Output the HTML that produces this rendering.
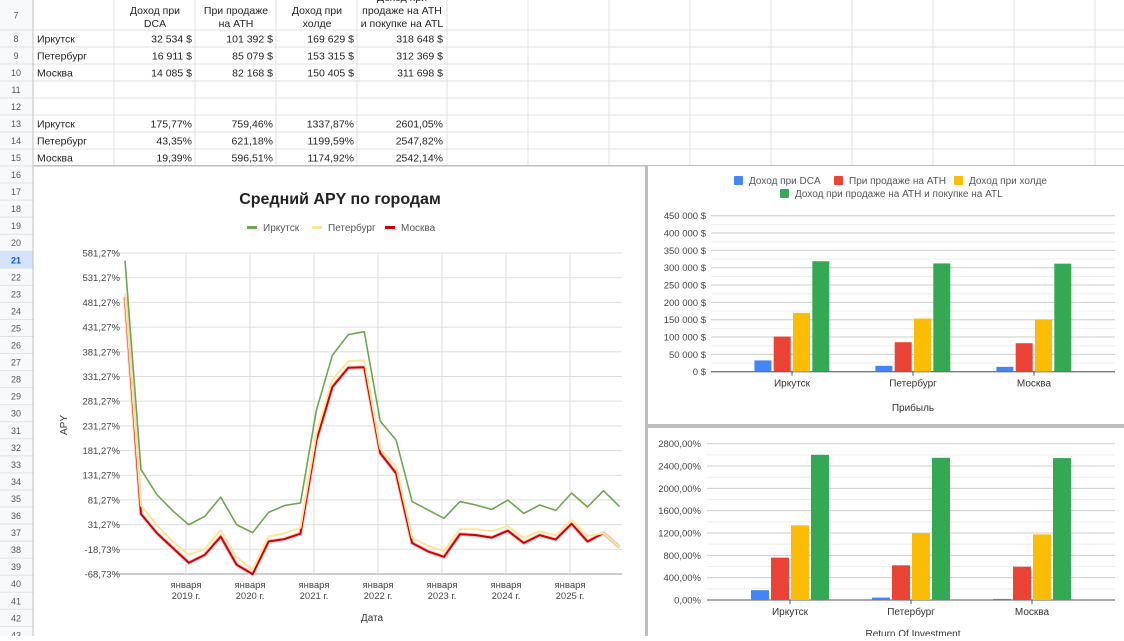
<!DOCTYPE html>
<html><head><meta charset="utf-8"><style>
html,body{margin:0;padding:0;background:#fff;}
body{width:1124px;height:636px;overflow:hidden;font-family:"Liberation Sans",Arial,sans-serif;}
svg text{font-family:"Liberation Sans",Arial,sans-serif;}
</style></head><body>
<svg id="s" width="1124" height="636" viewBox="0 0 1124 636">
<g id="grid"></g>
<g id="cells"></g>
<g id="line"></g>
<g id="bar1"></g>
<g id="bar2"></g>
</svg>
<script>
// ---- data ----
const cities = ["Иркутск","Петербург","Москва"];
const profitDCA = [32534,16911,14085];
const profitATH = [101392,85079,82168];
const profitHold = [169629,153315,150405];
const profitATL = [318648,312369,311698];
const roiDCA = [175.77,43.35,19.39];
const roiATH = [759.46,621.18,596.51];
const roiHold = [1337.87,1199.59,1174.92];
const roiATL = [2601.05,2547.82,2542.14];
const profitLabels = [["32 534 $","101 392 $","169 629 $","318 648 $"],["16 911 $","85 079 $","153 315 $","312 369 $"],["14 085 $","82 168 $","150 405 $","311 698 $"]];
const roiLabels = [["175,77%","759,46%","1337,87%","2601,05%"],["43,35%","621,18%","1199,59%","2547,82%"],["19,39%","596,51%","1174,92%","2542,14%"]];
const yearTicks = [2019,2020,2021,2022,2023,2024,2025];
const apyTicks = [581.27,531.27,481.27,431.27,381.27,331.27,281.27,231.27,181.27,131.27,81.27,31.27,-18.73,-68.73];
const apyIrkutsk = [566,143,92,59,31,48,87,31,15,56,70,75,263,374,416,422,241,202,78,61,44,78,71,62,81,54,71,60,95,67,100,68];
const apyPiter = [500,70,30,-3,-30,-18,20,-35,-60,7,14,25,215,325,362,364,185,148,5,-12,-22,22,22,18,28,4,18,10,40,8,14,-14];
const apyMoscow = [492,53,14,-16,-46,-30,7,-50,-69,-3,2,13,202,310,349,350,176,135,-6,-23,-34,12,10,5,19,-6,10,1,33,-3,14,-14];

const NS="http://www.w3.org/2000/svg";
function mk(parent,tag,attrs,txt){const e=document.createElementNS(NS,tag);for(const k in attrs)e.setAttribute(k,attrs[k]);if(txt!==undefined)e.textContent=txt;parent.appendChild(e);return e;}

// ---- spreadsheet grid ----
const grid=document.getElementById('grid');
const rowTops=[0,30,47,64,81,98,115,132,149,166];
for(let r=16;r<=43;r++)rowTops.push(166+(r-15)*17.05);
mk(grid,'rect',{x:0,y:0,width:33,height:636,fill:'#f8f9fa'});
for(let i=0;i<rowTops.length-1;i++){
  const y0=rowTops[i],y1=rowTops[i+1],rn=7+i;
  if(rn===21){const hl=mk(grid,'rect',{x:0,y:y0,width:33,height:y1-y0,fill:'#d3e3fd'});
  
  }
  const t=mk(grid,'text',{x:16,y:(y0+y1)/2+3.5,'font-size':9,'text-anchor':'middle',fill:rn===21?'#0b57d0':'#555','font-weight':rn===21?'bold':'normal'},String(rn));
  
  
  mk(grid,'line',{x1:0,x2:1124,y1:y1,y2:y1,stroke:'#e1e1e1','stroke-width':1});
}
const colX=[33,114,195,276,357,447,528,609,690,771,852,933,1014,1095];
colX.forEach(x=>mk(grid,'line',{x1:x,x2:x,y1:0,y2:636,stroke:'#e1e1e1'}));
mk(grid,'line',{x1:33,x2:33,y1:0,y2:636,stroke:'#c0c0c0'});

// ---- table cells ----
const cells=document.getElementById('cells');
const hdr=[[155,["Доход при","DCA"]],[236,["При продаже","на ATH"]],[317,["Доход при","холде"]],[402,["Доход при","продаже на ATH","и покупке на ATL"]]];
hdr.forEach(h=>{const n=h[1].length;h[1].forEach((s,j)=>{const y=27-(n-1-j)*13;const t=mk(cells,'text',{x:h[0],y:y,'font-size':10.5,'text-anchor':'middle',fill:'#222'},s);

});});
const colR=[192,273,354,443];
[[0,profitLabels],[5,roiLabels]].forEach(([off,labels])=>{
  cities.forEach((c,i)=>{const y0=rowTops[1+off+i],y1=rowTops[2+off+i],ty=(y0+y1)/2+4;
    const t=mk(cells,'text',{x:37,y:ty,'font-size':10.5,fill:'#222'},c);
    
    
    labels[i].forEach((v,j)=>{const e=mk(cells,'text',{x:colR[j],y:ty,'font-size':10.5,'text-anchor':'end',fill:'#222'},v);
    
    });
  });
});

// ---- line chart ----
const L=document.getElementById('line');
mk(L,'rect',{x:34,y:166,width:612,height:470,fill:'#fff'});
mk(L,'rect',{x:645,y:166,width:3,height:470,fill:'#bdbdbd'});
mk(L,'rect',{x:34,y:165,width:1090,height:1.5,fill:'#bdbdbd'});
const yV=v=>574-(v+68.73)/650*321;
const xI=i=>125+i*15.95;
const xYear=y=>186+(y-2019)*64;
const lt=mk(L,'text',{x:340,y:204,'font-size':16,'font-weight':'bold','text-anchor':'middle',fill:'#222'},'Средний APY по городам');


apyTicks.forEach(v=>{mk(L,'line',{x1:115,x2:622,y1:yV(v),y2:yV(v),stroke:v===-68.73?'#999':'#ddd'});
  const t=mk(L,'text',{x:120,y:yV(v)+3.5,'font-size':9.5,'text-anchor':'end',fill:'#444'},v.toFixed(2).replace('.',',')+'%');
  
  });
yearTicks.forEach(y=>{const x=xYear(y);mk(L,'line',{x1:x,x2:x,y1:253,y2:574,stroke:'#ddd'});
  const a=mk(L,'text',{x:x,y:588,'font-size':9.5,'text-anchor':'middle',fill:'#444'},'января');
  
  
  const b=mk(L,'text',{x:x,y:599,'font-size':9.5,'text-anchor':'middle',fill:'#444'},y+' г.');
  
  });
const ya=mk(L,'text',{x:0,y:0,'font-size':10,'text-anchor':'middle',fill:'#333',transform:'translate(67,425) rotate(-90)'},'APY');


const xa=mk(L,'text',{x:372,y:621,'font-size':10,'text-anchor':'middle',fill:'#333'},'Дата');


const series=[[apyIrkutsk,'#6aa84f',1.6,'Иркутск',247],[apyPiter,'#ffe599',2,'Петербург',312],[apyMoscow,'#cc0000',2,'Москва',385]];
series.slice().reverse().forEach(s=>{
  if(s[1]==='#cc0000'){const pw=mk(L,'polyline',{points:s[0].map((v,i)=>xI(i)+','+yV(v)).join(' '),fill:'none',stroke:'#f4cccc','stroke-width':4});
  
  }
  const p=mk(L,'polyline',{points:s[0].map((v,i)=>xI(i)+','+yV(v)).join(' '),fill:'none',stroke:s[1],'stroke-width':s[2],'stroke-linejoin':'round'});
  
  
});
series.forEach(s=>{mk(L,'rect',{x:s[4],y:226,width:10,height:3,fill:s[1]});
  const t=mk(L,'text',{x:s[4]+16,y:231,'font-size':10,fill:'#555'},s[3]);
  
  });

// ---- bar charts ----
const barColors=['#4285f4','#ea4335','#fbbc04','#34a853'];
const legendNames=['Доход при DCA','При продаже на ATH','Доход при холде','Доход при продаже на ATH и покупке на ATL'];
function barChart(g,top,bottom,opts){
  mk(g,'rect',{x:648,y:top,width:476,height:bottom-top,fill:'#fff'});
  const y=v=>opts.y0-v/opts.max*(opts.y0-opts.yTop);
  for(let k=0;k<=opts.nMinor;k++){const v=opts.max*k/opts.nMinor;mk(g,'line',{x1:opts.px0,x2:1115,y1:y(v),y2:y(v),stroke:k%opts.per===0?'#ccc':'#eee'});}
  opts.ticks.forEach(v=>{const t=mk(g,'text',{x:opts.lx,y:y(v)+3.5,'font-size':9.5,'text-anchor':'end',fill:'#444'},opts.fmt(v));
    
    });
  mk(g,'line',{x1:opts.px0,x2:1115,y1:opts.y0,y2:opts.y0,stroke:'#555'});
  const centers=[opts.c0,opts.c0+121,opts.c0+242];
  cities.forEach((c,i)=>{
    opts.series.forEach((arr,j)=>{const bx=centers[i]-2*opts.pitch+j*opts.pitch+1;
      const b=mk(g,'rect',{x:bx,y:y(arr[i]),width:opts.bw,height:opts.y0-y(arr[i]),fill:barColors[j]});
      
      });
    mk(g,'line',{x1:centers[i],x2:centers[i],y1:opts.y0,y2:opts.y0+4,stroke:'#555'});
    const t=mk(g,'text',{x:centers[i],y:opts.y0+15,'font-size':10,'text-anchor':'middle',fill:'#333'},c);
    
    
  });
  const tt=mk(g,'text',{x:913,y:opts.titleY,'font-size':10,'text-anchor':'middle',fill:'#333'},opts.title);
  
  
}
const B1=document.getElementById('bar1');
barChart(B1,166,425,{y0:371.7,yTop:215.7,max:450000,nMinor:18,per:2,ticks:[0,50000,100000,150000,200000,250000,300000,350000,400000,450000],
  fmt:v=>(v===0?'0':String(v/1000)+' 000')+' $',lx:706,px0:711,c0:792,pitch:19.3,bw:17,series:[profitDCA,profitATH,profitHold,profitATL],title:'Прибыль',titleY:411});
const lg=[[734,184,0],[834,184,1],[954,184,2],[780,197,3]];
lg.forEach(([x,y,j])=>{mk(B1,'rect',{x:x,y:y-8,width:9,height:9,fill:barColors[j],rx:1});
  const t=mk(B1,'text',{x:x+15,y:y,'font-size':10,fill:'#555'},legendNames[j]);
  
  });
mk(B1,'rect',{x:648,y:424,width:476,height:4,fill:'#bdbdbd'});
const B2=document.getElementById('bar2');
barChart(B2,428,636,{y0:600,yTop:443.7,max:2800,nMinor:14,per:2,ticks:[0,400,800,1200,1600,2000,2400,2800],
  fmt:v=>v.toFixed(2).replace('.',',')+'%',lx:701,px0:707,c0:790,pitch:20,bw:18,series:[roiDCA,roiATH,roiHold,roiATL],title:'Return Of Investment',titleY:637});
</script>
</body></html>
